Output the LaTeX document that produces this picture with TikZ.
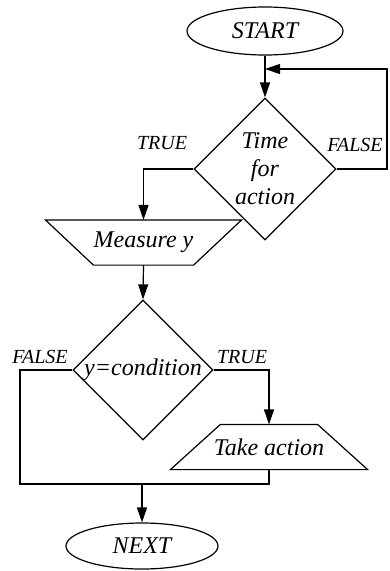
\documentclass[tikz,border=0pt]{standalone}
\usepackage{fontspec}
\setmainfont{Liberation Serif}
\usetikzlibrary{shapes.geometric,arrows.meta}
\begin{document}
\begin{tikzpicture}[x=1pt,y=-1pt,
  every path/.style={line width=1.2pt},
  txt/.style={font=\fontsize{24}{28}\selectfont\itshape, inner sep=0pt},
  lbl/.style={font=\fontsize{20}{24}\selectfont\itshape, inner sep=0pt},
  term/.style={draw, ellipse, inner sep=0pt, font=\fontsize{24}{28}\selectfont\itshape},
  decision/.style={draw, diamond, inner sep=0pt, minimum width=142pt, minimum height=142pt},
  iobox/.style={txt, minimum width=#1, minimum height=44pt},
  arr/.style={-{Triangle[length=15pt,width=10pt]}}]
\useasboundingbox (0,0) rectangle (389,571);

% terminals
\node[term, minimum width=156pt, minimum height=48pt] (start) at (265,31) {START};
\node[term, minimum width=152pt, minimum height=46pt] (next) at (142,546) {NEXT};

% decisions
\node[decision] (d1) at (265,169) {};
\node[txt, align=center] (d1t) at (d1) {Time\\for\\action};
\node[decision, minimum width=140pt, minimum height=140pt] (d2) at (143,370) {};
\node[txt] (d2t) at (d2) {y=condition};

% input / output blocks (text node spans the bounding box, outline drawn around it)
\node[iobox=195pt] (meas) at (143.5,242.5) {Measure y};
\draw (meas.north west) -- (meas.north east) -- ([xshift=-48pt]meas.south east)
  -- ([xshift=48pt]meas.south west) -- cycle;
\node[iobox=196pt] (take) at (269,447) {Take action};
\draw ([xshift=50pt]take.north west) -- ([xshift=-50pt]take.north east)
  -- (take.south east) -- (take.south west) -- cycle;

% branch labels
\node[lbl] (t1) at (162,143) {TRUE};
\node[lbl] (f1) at (355,145) {FALSE};
\node[lbl] (f2) at (40,357) {FALSE};
\node[lbl] (t2) at (242,357) {TRUE};

% helper points
\coordinate (loopR) at (387,69);
\coordinate (loopIn) at (265,69);
\coordinate (joinL) at (20,484);
\coordinate (joinM) at (142,484);

% connectors
\draw[arr] (start.south) -- (d1.north);
\draw[arr] (d1.east) -| (loopR) -- (loopIn);
\draw[arr] (d1.west) -| (meas.north);
\draw[arr] (meas.south) -- (d2.north);
\draw[arr] (d2.east) -| (take.north);
\draw (d2.west) -| (joinL) -- (joinM);
\draw (take.south) |- (joinM);
\draw[arr] (joinM) -- (next.north);
\end{tikzpicture}
\end{document}
